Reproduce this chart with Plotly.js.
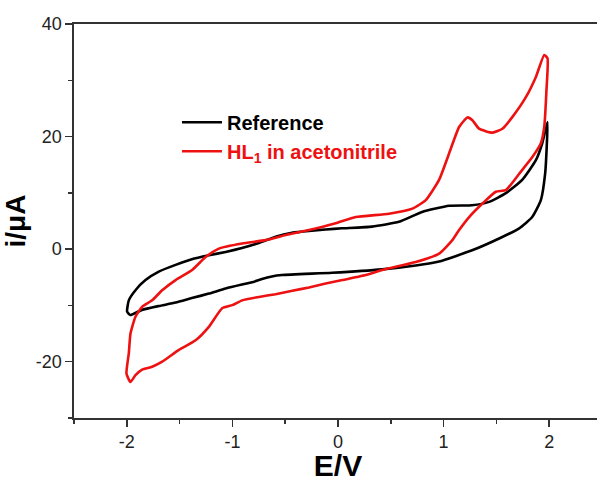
<!DOCTYPE html>
<html>
<head>
<meta charset="utf-8">
<script src="https://cdn.plot.ly/plotly-3.0.1.min.js"></script>
<style>
html, body { margin: 0; padding: 0; overflow: hidden; background: #fff; }
#chart { width: 602px; height: 482px; }
</style>
</head>
<body>
<div id="chart"></div>
<script>
// Reference electrolyte: potential (V) and current (µA), one closed CV loop
var refE = [-1.997, -1.981, -1.918, -1.823, -1.697, -1.538, -1.384, -1.223, -1.064, -0.910, -0.749, -0.591, -0.436, -0.275, -0.117, 0.038, 0.322, 0.578, 0.796, 1.052, 1.270, 1.431, 1.590, 1.744, 1.874, 1.934, 1.984, 1.976, 1.962, 1.921, 1.839, 1.716, 1.526, 1.270, 0.957, 0.736, 0.417, -0.057, -0.531, -0.626, -0.720, -0.815, -0.910, -1.064, -1.223, -1.384, -1.538, -1.697, -1.858, -1.966, -1.997];
var refI = [-11.1, -9.1, -7.3, -5.5, -4.0, -2.8, -1.8, -1.1, -0.5, 0.2, 1.1, 2.2, 2.9, 3.25, 3.5, 3.7, 4.0, 4.85, 6.6, 7.7, 7.8, 8.4, 9.95, 12.3, 15.8, 18.8, 22.6, 18.0, 13.5, 8.7, 5.7, 3.7, 1.9, -0.2, -2.2, -2.9, -3.6, -4.2, -4.6, -4.85, -5.3, -5.9, -6.3, -7.0, -7.9, -8.7, -9.5, -10.1, -10.8, -11.7, -11.1];

// HL1 in acetonitrile
var hlE = [-2.003, -1.981, -1.965, -1.918, -1.855, -1.760, -1.665, -1.538, -1.381, -1.254, -1.128, -0.907, -0.685, -0.496, -0.275, -0.022, 0.168, 0.483, 0.704, 0.831, 0.957, 1.052, 1.147, 1.226, 1.273, 1.336, 1.463, 1.557, 1.652, 1.779, 1.874, 1.953, 1.984, 1.974, 1.953, 1.921, 1.842, 1.716, 1.590, 1.495, 1.368, 1.242, 1.147, 1.083, 0.957, 0.736, 0.420, 0.263, 0.041, -0.117, -0.275, -0.433, -0.591, -0.749, -0.907, -1.000, -1.097, -1.223, -1.349, -1.507, -1.665, -1.760, -1.855, -1.918, -1.966, -2.003];
var hlI = [-22.1, -18.5, -15.0, -12.0, -10.25, -9.1, -7.3, -5.5, -3.7, -1.4, 0.1, 1.0, 1.6, 2.5, 3.4, 4.6, 5.7, 6.3, 7.2, 8.7, 12.3, 17.0, 21.7, 23.4, 22.9, 21.4, 20.7, 21.4, 23.5, 27.0, 30.6, 34.5, 33.9, 28.2, 21.7, 18.8, 16.4, 13.4, 10.5, 10.2, 8.1, 5.7, 3.4, 1.6, -0.8, -2.3, -3.7, -4.6, -5.5, -6.1, -6.8, -7.4, -8.0, -8.5, -9.1, -9.95, -10.5, -13.8, -16.2, -17.9, -20.0, -20.9, -21.4, -22.4, -23.6, -22.1];

var seriesNames = ['Reference', '<span style="color:#ee1111">HL<sub>1</sub> in acetonitrile</span>'];
var seriesColors = ['#000000', '#ee1111'];

var xTickVals = [-2, -1, 0, 1, 2];
var xTickText = ['-2', '-1', '0', '1', '2'];
var yTickVals = [-20, 0, 20, 40];
var yTickText = ['-20', '0', '20', '40'];

var font = 'Liberation Sans, Arial, Helvetica, sans-serif';

var traces = [
  {x: refE, y: refI, mode: 'lines', name: seriesNames[0],
   line: {color: seriesColors[0], width: 2.6, shape: 'spline', smoothing: 0.5}},
  {x: hlE, y: hlI, mode: 'lines', name: seriesNames[1],
   line: {color: seriesColors[1], width: 2.6, shape: 'spline', smoothing: 0.5}}
];

var axisCommon = {
  showgrid: false, zeroline: false,
  showline: true, linecolor: '#333', linewidth: 1.6,
  ticks: 'outside', ticklen: 7, tickwidth: 1.5, tickcolor: '#333',
  tickfont: {family: font, size: 18, color: '#222'}
};

var layout = {
  width: 602, height: 482,
  margin: {l: 74, r: 0, t: 24, b: 64},
  paper_bgcolor: '#fff', plot_bgcolor: '#fff',
  showlegend: true,
  legend: {x: 0.195, y: 0.714, xanchor: 'left', yanchor: 'middle',
    bgcolor: 'rgba(0,0,0,0)', borderwidth: 0, tracegroupgap: 0, itemwidth: 40,
    font: {family: font, size: 20, color: '#000', weight: 'bold'}},
  xaxis: Object.assign({}, axisCommon, {
    range: [-2.5, 2.5], tickvals: xTickVals, ticktext: xTickText, mirror: true,
    minor: {dtick: 0.5, tick0: 0, ticks: 'outside', ticklen: 4, tickwidth: 1.5, tickcolor: '#333'},
    title: {text: 'E/V', font: {family: font, size: 30, color: '#000', weight: 'bold'}}
  }),
  yaxis: Object.assign({}, axisCommon, {
    range: [-30, 40], tickvals: yTickVals, ticktext: yTickText, mirror: true,
    minor: {dtick: 10, tick0: 0, ticks: 'outside', ticklen: 4, tickwidth: 1.5, tickcolor: '#333'},
    title: {text: 'i/μA', font: {family: font, size: 28, color: '#000', weight: 'bold'}}
  })
};

Plotly.newPlot('chart', traces, layout, {displayModeBar: false, staticPlot: true});
</script>
</body>
</html>
